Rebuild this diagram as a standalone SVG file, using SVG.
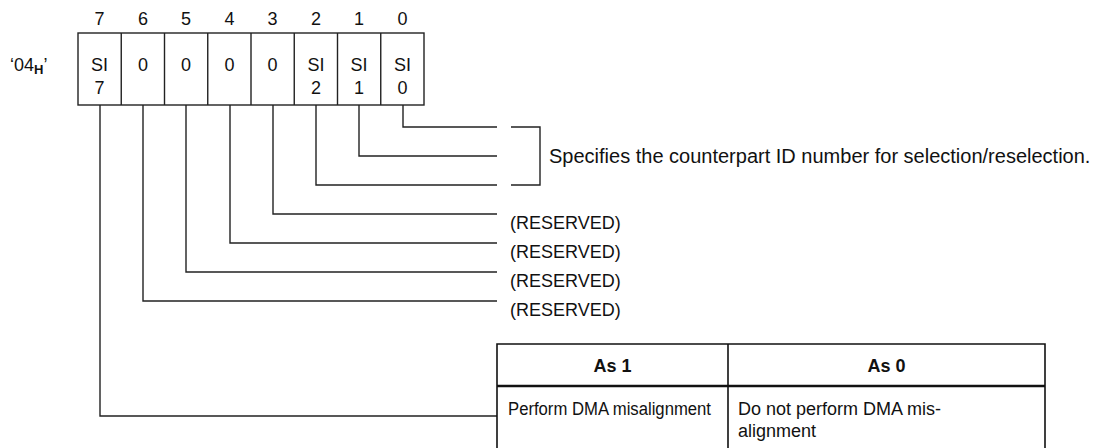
<svg xmlns="http://www.w3.org/2000/svg" width="1095" height="448" viewBox="0 0 1095 448">
<style>
text{font-family:"Liberation Sans",Arial,sans-serif;font-size:18px;fill:#111}
text.big{font-size:20px}
.c{text-anchor:middle}
.b{font-weight:bold}
.ln{fill:none;stroke:#222;stroke-width:1.4}
.tb{fill:none;stroke:#111;stroke-width:1.6}
</style>
<rect width="1095" height="448" fill="#fff"/>
<g id="bitnums">
<text class="c" x="99.6" y="25">7</text>
<text class="c" x="142.9" y="25">6</text>
<text class="c" x="186.1" y="25">5</text>
<text class="c" x="229.4" y="25">4</text>
<text class="c" x="272.6" y="25">3</text>
<text class="c" x="315.9" y="25">2</text>
<text class="c" x="359.1" y="25">1</text>
<text class="c" x="402.4" y="25">0</text>
</g>
<g id="label04H"><text x="10" y="71">‘04<tspan font-size="13" font-weight="bold" dy="3">H</tspan><tspan dy="-3">’</tspan></text></g>
<g id="register">
<rect class="ln" x="78" y="33" width="346" height="72"/>
<path class="ln" d="M121.25 33V105M164.5 33V105M207.75 33V105M251 33V105M294.25 33V105M337.5 33V105M380.75 33V105"/>
<g id="bit7"><text class="c" x="99.6" y="71">SI</text><text class="c" x="99.6" y="94">7</text></g>
<g id="bit6"><text class="c" x="142.9" y="71">0</text></g>
<g id="bit5"><text class="c" x="186.1" y="71">0</text></g>
<g id="bit4"><text class="c" x="229.4" y="71">0</text></g>
<g id="bit3"><text class="c" x="272.6" y="71">0</text></g>
<g id="bit2"><text class="c" x="315.9" y="71">SI</text><text class="c" x="315.9" y="94">2</text></g>
<g id="bit1"><text class="c" x="359.1" y="71">SI</text><text class="c" x="359.1" y="94">1</text></g>
<g id="bit0"><text class="c" x="402.4" y="71">SI</text><text class="c" x="402.4" y="94">0</text></g>
</g>
<g id="connectors">
<path class="ln" d="M403 105V127H497"/>
<path class="ln" d="M359 105V156H497"/>
<path class="ln" d="M316 105V185H497"/>
<path class="ln" d="M273 105V214H497"/>
<path class="ln" d="M230 105V243H497"/>
<path class="ln" d="M186 105V272H497"/>
<path class="ln" d="M143 105V301H497"/>
<path class="ln" d="M100 105V416H497"/>
<path class="ln" d="M511 127H540V185H511"/>
</g>
<g id="desc-si"><text class="big" x="549" y="163">Specifies the counterpart ID number for selection/reselection.</text></g>
<g id="reserved">
<text x="510" y="228.5">(RESERVED)</text>
<text x="510" y="257.5">(RESERVED)</text>
<text x="510" y="286.5">(RESERVED)</text>
<text x="510" y="315.5">(RESERVED)</text>
</g>
<g id="table">
<path class="tb" d="M497 452V344H1045V452M728 344V452"/>
<path fill="none" stroke="#111" stroke-width="2.4" d="M497 386H1045"/>
<text class="c b" x="612.5" y="372">As 1</text>
<text class="c b" x="886.5" y="372">As 0</text>
<text x="508" y="415" textLength="203" lengthAdjust="spacingAndGlyphs">Perform DMA misalignment</text>
<text x="738" y="415">Do not perform DMA mis-</text>
<text x="738" y="437">alignment</text>
</g>
</svg>
